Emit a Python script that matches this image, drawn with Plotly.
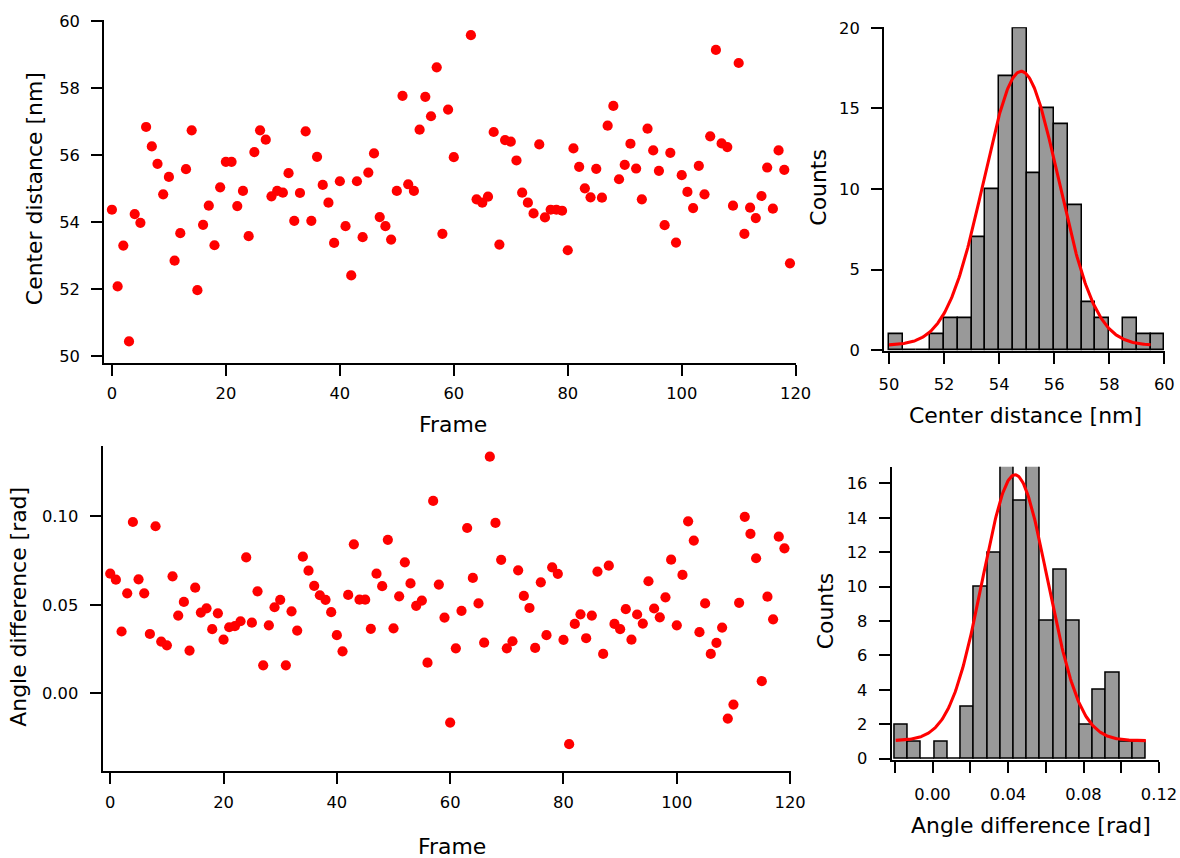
import numpy as np
import plotly.graph_objects as go

# ---- per-frame measurements ----
frames = list(range(120))

center_distance_nm = [
    54.37, 52.08, 53.30, 50.44, 54.24, 53.98, 56.84, 56.26, 55.74, 54.83,
    55.35, 52.85, 53.67, 55.58, 56.74, 51.97, 53.92, 54.49, 53.31, 55.04,
    55.80, 55.80, 54.48, 54.93, 53.58, 56.09, 56.74, 56.46, 54.77, 54.93,
    54.88, 55.46, 54.04, 54.87, 56.71, 54.04, 55.95, 55.11, 54.58, 53.38,
    55.22, 53.88, 52.41, 55.22, 53.55, 55.48, 56.05, 54.15, 53.88, 53.48,
    54.93, 57.77, 55.13, 54.93, 56.76, 57.74, 57.16, 58.62, 53.65, 57.36,
    55.94, None, None, 59.58, 54.68, 54.58, 54.76, 56.69, 53.33, 56.45,
    56.40, 55.84, 54.88, 54.58, 54.26, 56.32, 54.14, 54.37, 54.37, 54.34,
    53.16, 56.20, 55.65, 55.01, 54.74, 55.59, 54.73, 56.88, 57.47, 55.28,
    55.71, 56.34, 55.60, 54.68, 56.79, 56.14, 55.53, 53.91, 56.07, 53.39,
    55.40, 54.90, 54.42, 55.68, 54.83, 56.56, 59.14, 56.35, 56.24, 54.49,
    58.75, 53.65, 54.43, 54.12, 54.78, 55.63, 54.40, 56.14, 55.56, 52.77,
]

angle_difference_rad = [
    0.0676, 0.0642, 0.0349, 0.0565, 0.0968, 0.0644, 0.0565, 0.0335, 0.0944, 0.0292,
    0.0271, 0.0661, 0.0439, 0.0516, 0.0241, 0.0597, 0.0456, 0.0480, 0.0362, 0.0452,
    0.0303, 0.0373, 0.0379, 0.0407, 0.0768, 0.0399, 0.0576, 0.0158, 0.0384, 0.0486,
    0.0528, 0.0158, 0.0463, 0.0354, 0.0772, 0.0693, 0.0607, 0.0554, 0.0528, 0.0458,
    0.0328, 0.0237, 0.0556, 0.0842, 0.0529, 0.0529, 0.0364, 0.0676, 0.0605, 0.0867,
    0.0367, 0.0548, 0.0740, 0.0621, 0.0494, 0.0524, 0.0173, 0.1087, 0.0614, 0.0428,
    -0.0166, 0.0254, 0.0466, 0.0934, 0.0652, 0.0508, 0.0286, 0.1337, 0.0963, 0.0754,
    0.0254, 0.0294, 0.0695, 0.0550, 0.0482, 0.0256, 0.0627, 0.0328, 0.0712, 0.0675,
    0.0302, -0.0288, 0.0392, 0.0446, 0.0311, 0.0439, 0.0688, 0.0222, 0.0721, 0.0392,
    0.0362, 0.0475, 0.0303, 0.0445, 0.0394, 0.0633, 0.0479, 0.0429, 0.0542, 0.0755,
    0.0384, 0.0669, 0.0972, 0.0863, 0.0345, 0.0508, 0.0222, 0.0285, 0.0371, -0.0143,
    -0.0064, 0.0511, 0.0997, 0.0901, 0.0763, 0.0068, 0.0546, 0.0418, 0.0885, 0.0819,
]

# ---- histogram binning ----
dist_bin_start, dist_bin_width, dist_bin_count = 50.0, 0.5, 20
angle_bin_start, angle_bin_width, angle_bin_count = -0.02, 0.007, 19

# ---- Gaussian fit parameters (y0 + A * exp(-(x - x0)^2 / (2 sigma^2))) ----
dist_fit = dict(y0=0.30, A=17.0, x0=54.80, sigma=1.35, x_start=50.0, x_end=59.5)
angle_fit = dict(y0=1.05, A=15.45, x0=0.0437, sigma=0.0172, x_start=-0.0195, x_end=0.1130)

# ---- tick labels ----
frame_ticks = [0, 20, 40, 60, 80, 100, 120]
dist_ticks = [50, 52, 54, 56, 58, 60]
angle_ticks = [0.00, 0.05, 0.10]
count_ticks_top = [0, 5, 10, 15, 20]
count_ticks_bottom = [0, 2, 4, 6, 8, 10, 12, 14, 16]
angle_hist_ticks = [-0.02, 0.00, 0.02, 0.04, 0.06, 0.08, 0.10, 0.12]
angle_hist_ticktext = ["", "0.00", "", "0.04", "", "0.08", "", "0.12"]


def histogram(values, start, width, n):
    vals = np.array([v for v in values if v is not None], dtype=float)
    edges = start + width * np.arange(n + 1)
    counts, _ = np.histogram(vals, bins=edges)
    centers = edges[:-1] + width / 2
    return centers, counts


def gauss_curve(p, n=300):
    x = np.linspace(p["x_start"], p["x_end"], n)
    y = p["y0"] + p["A"] * np.exp(-((x - p["x0"]) ** 2) / (2 * p["sigma"] ** 2))
    return x, y


# layout is specified in 1180x858 view pixels; VIEW_SCALE maps them onto the page
VIEW_W, VIEW_H = 1180, 858
VIEW_SCALE = 0.98
BODY_MARGIN = 8
X_NUDGE = 3
W = round(VIEW_W / VIEW_SCALE) - 2 * BODY_MARGIN
H = round(VIEW_H / VIEW_SCALE) - 2 * BODY_MARGIN
K = 1 / VIEW_SCALE

FONT = "DejaVu Sans"
RED = "#ff0000"
BAR_FILL = "#999999"
TICK_SIZE = 16 * K
TITLE_SIZE = 21.5 * K
MARKER_SIZE = 10 * K

fig = go.Figure()

# scatter: center distance vs frame
fig.add_trace(go.Scatter(
    x=frames, y=center_distance_nm, mode="markers",
    marker=dict(color=RED, size=MARKER_SIZE, line=dict(width=0)),
    xaxis="x", yaxis="y", showlegend=False,
))

# scatter: angle difference vs frame
fig.add_trace(go.Scatter(
    x=frames, y=angle_difference_rad, mode="markers",
    marker=dict(color=RED, size=MARKER_SIZE, line=dict(width=0)),
    xaxis="x2", yaxis="y2", showlegend=False,
))

# histogram + fit: center distance
dc, dn = histogram(center_distance_nm, dist_bin_start, dist_bin_width, dist_bin_count)
fig.add_trace(go.Bar(
    x=dc, y=dn, width=dist_bin_width,
    marker=dict(color=BAR_FILL, line=dict(color="black", width=1.5 * K)),
    xaxis="x3", yaxis="y3", showlegend=False,
))
gx, gy = gauss_curve(dist_fit)
fig.add_trace(go.Scatter(
    x=gx, y=gy, mode="lines", line=dict(color=RED, width=3 * K),
    xaxis="x3", yaxis="y3", showlegend=False,
))

# histogram + fit: angle difference
ac, an = histogram(angle_difference_rad, angle_bin_start, angle_bin_width, angle_bin_count)
fig.add_trace(go.Bar(
    x=ac, y=an, width=angle_bin_width,
    marker=dict(color=BAR_FILL, line=dict(color="black", width=1.5 * K)),
    xaxis="x4", yaxis="y4", showlegend=False,
))
gx, gy = gauss_curve(angle_fit)
fig.add_trace(go.Scatter(
    x=gx, y=gy, mode="lines", line=dict(color=RED, width=3 * K),
    xaxis="x4", yaxis="y4", showlegend=False,
))


# view-pixel positions -> paper fractions of the figure
def px_x(p):
    return ((p + X_NUDGE) * K - BODY_MARGIN) / W


def px_y(p):
    return 1 - (p * K - BODY_MARGIN) / H


def axis(domain, rng, anchor, tickvals, standoff, ticktext=None, fmt=None):
    a = dict(
        domain=domain, range=rng, anchor=anchor,
        showgrid=False, zeroline=False, showline=True,
        linecolor="black", linewidth=1.5 * K,
        ticks="outside", ticklen=11 * K, tickwidth=1.5 * K, tickcolor="black",
        tickvals=tickvals, tickfont=dict(family=FONT, size=TICK_SIZE, color="black"),
        ticklabelstandoff=int(round(standoff * K)),
    )
    if ticktext is not None:
        a["ticktext"] = ticktext
    if fmt is not None:
        a["tickformat"] = fmt
    return a


layout = dict(
    width=W, height=H,
    margin=dict(l=0, r=0, t=0, b=0),
    paper_bgcolor="white", plot_bgcolor="white",
    bargap=0,
    font=dict(family=FONT, color="black"),
    xaxis=axis([px_x(104), px_x(795)], [-1.35, 120.0], "y", frame_ticks, 4),
    yaxis=axis([px_y(362), px_y(19.3)], [49.8, 60.02], "x", dist_ticks, 8),
    xaxis2=axis([px_x(102.3), px_x(790)], [-1.36, 120.1], "y2", frame_ticks, 4),
    yaxis2=axis([px_y(771), px_y(445)], [-0.0442, 0.1399], "x2", angle_ticks, 8, fmt=".2f"),
    xaxis3=axis([px_x(883.3), px_x(1164)], [49.82, 60.02], "y3", dist_ticks, 7),
    yaxis3=axis([px_y(350), px_y(26)], [-0.04, 20.04], "x3", count_ticks_top, 8),
    xaxis4=axis([px_x(891), px_x(1158.3)], [-0.0216, 0.1201], "y4",
                angle_hist_ticks, 7, ticktext=angle_hist_ticktext),
    yaxis4=axis([px_y(759.5), px_y(466)], [-0.07, 16.97], "x4", count_ticks_bottom, 8),
)


def title(text, x, y, angle=0):
    return dict(
        text=text, x=px_x(x), y=px_y(y), xref="paper", yref="paper",
        xanchor="center", yanchor="middle", showarrow=False, textangle=angle,
        font=dict(family=FONT, size=TITLE_SIZE, color="black"),
    )


layout["annotations"] = [
    title("Frame", 453, 424),
    title("Center distance [nm]", 35, 188, -90),
    title("Frame", 452, 846),
    title("Angle difference [rad]", 18, 606, -90),
    title("Center distance [nm]", 1025, 415),
    title("Counts", 818, 186, -90),
    title("Angle difference [rad]", 1030, 825),
    title("Counts", 825, 610, -90),
]

fig.update_layout(**layout)
fig.write_html("out.html")
